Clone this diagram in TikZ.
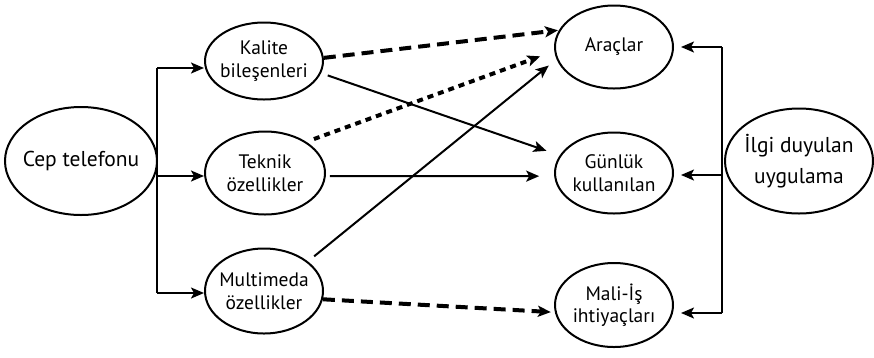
\documentclass[tikz,border=0pt]{standalone}
\usepackage{fontspec}
\setmainfont{PT Sans}
\usetikzlibrary{shapes.geometric,arrows.meta}
\begin{document}
\begin{tikzpicture}[x=1pt,y=-1pt,
  el/.style={draw, ellipse, line width=2pt, inner sep=-18pt, align=center,
    font=\fontsize{19.5}{22.5}\selectfont},
  big/.style={font=\fontsize{21.5}{31}\selectfont},
  tip/.style={-{Stealth[length=13pt,width=11pt,inset=3pt]}},
  solidarr/.style={tip, line width=2pt},
  dasharr/.style={tip, line width=4pt, dash pattern=on 12pt off 7pt},
  dotarr/.style={tip, line width=4pt, dash pattern=on 6pt off 5pt},
  bus/.style={line width=2pt}]
\useasboundingbox (0,0) rectangle (874,357);

\node[el, big, minimum width=152pt, minimum height=108pt] (cep) at (81,161) {Cep telefonu};
\node[el, minimum width=118pt, minimum height=77pt] (kal) at (264,61) {Kalite\\bileşenleri};
\node[el, minimum width=120pt, minimum height=83pt] (tek) at (265,173) {Teknik\\özellikler};
\node[el, minimum width=118pt, minimum height=85pt] (mul) at (264,291) {Multimeda\\özellikler};
\node[el, minimum width=118pt, minimum height=83pt] (ara) at (614,47) {Araçlar};
\node[el, minimum width=118pt, minimum height=81pt] (gun) at (614,173) {Günlük\\kullanılan};
\node[el, minimum width=118pt, minimum height=84pt] (mal) at (614,305) {Mali-İş\\ihtiyaçları};
\node[el, big, minimum width=148pt, minimum height=105pt] (ilg) at (799,161) {İlgi duyulan\\uygulama};

% left bus
\coordinate (lb1) at (157,68);
\coordinate (lb2) at (157,176);
\coordinate (lb3) at (157,293);
\draw[bus] (lb1) -- (lb3);
\draw[solidarr] (lb1) -- (kal.west |- lb1);
\draw[solidarr] (lb2) -- (tek.west |- lb2);
\draw[solidarr] (lb3) -- (mul.west |- lb3);

% right bus
\coordinate (rb1) at (722,47);
\coordinate (rb2) at (722,175);
\coordinate (rb3) at (722,313);
\draw[bus] (rb1) -- (rb3);
\draw[solidarr, shorten >=7pt] (rb1) -- (ara.east |- rb1);
\draw[solidarr, shorten >=7pt] (rb2) -- (gun.east |- rb2);
\draw[solidarr, shorten >=7pt] (rb3) -- (mal.east |- rb3);

% cross connectors
\draw[dasharr, shorten >=1pt] (kal.3) -- (ara.163);
\draw[dotarr, shorten <=8pt, shorten >=15pt] (tek.37.5) -- (ara.184.6);
\draw[solidarr, shorten <=7pt, shorten >=14pt] (kal.-12.5) -- (gun.162.6);
\draw[solidarr, shorten <=4pt, shorten >=15pt] (tek.-3.6) -- (gun.183);
\draw[solidarr, shorten <=8pt, shorten >=10pt] (mul.34.8) -- (ara.192);
\draw[dasharr, shorten >=4pt] (mul.-8.8) -- (mal.187.4);
\end{tikzpicture}
\end{document}
